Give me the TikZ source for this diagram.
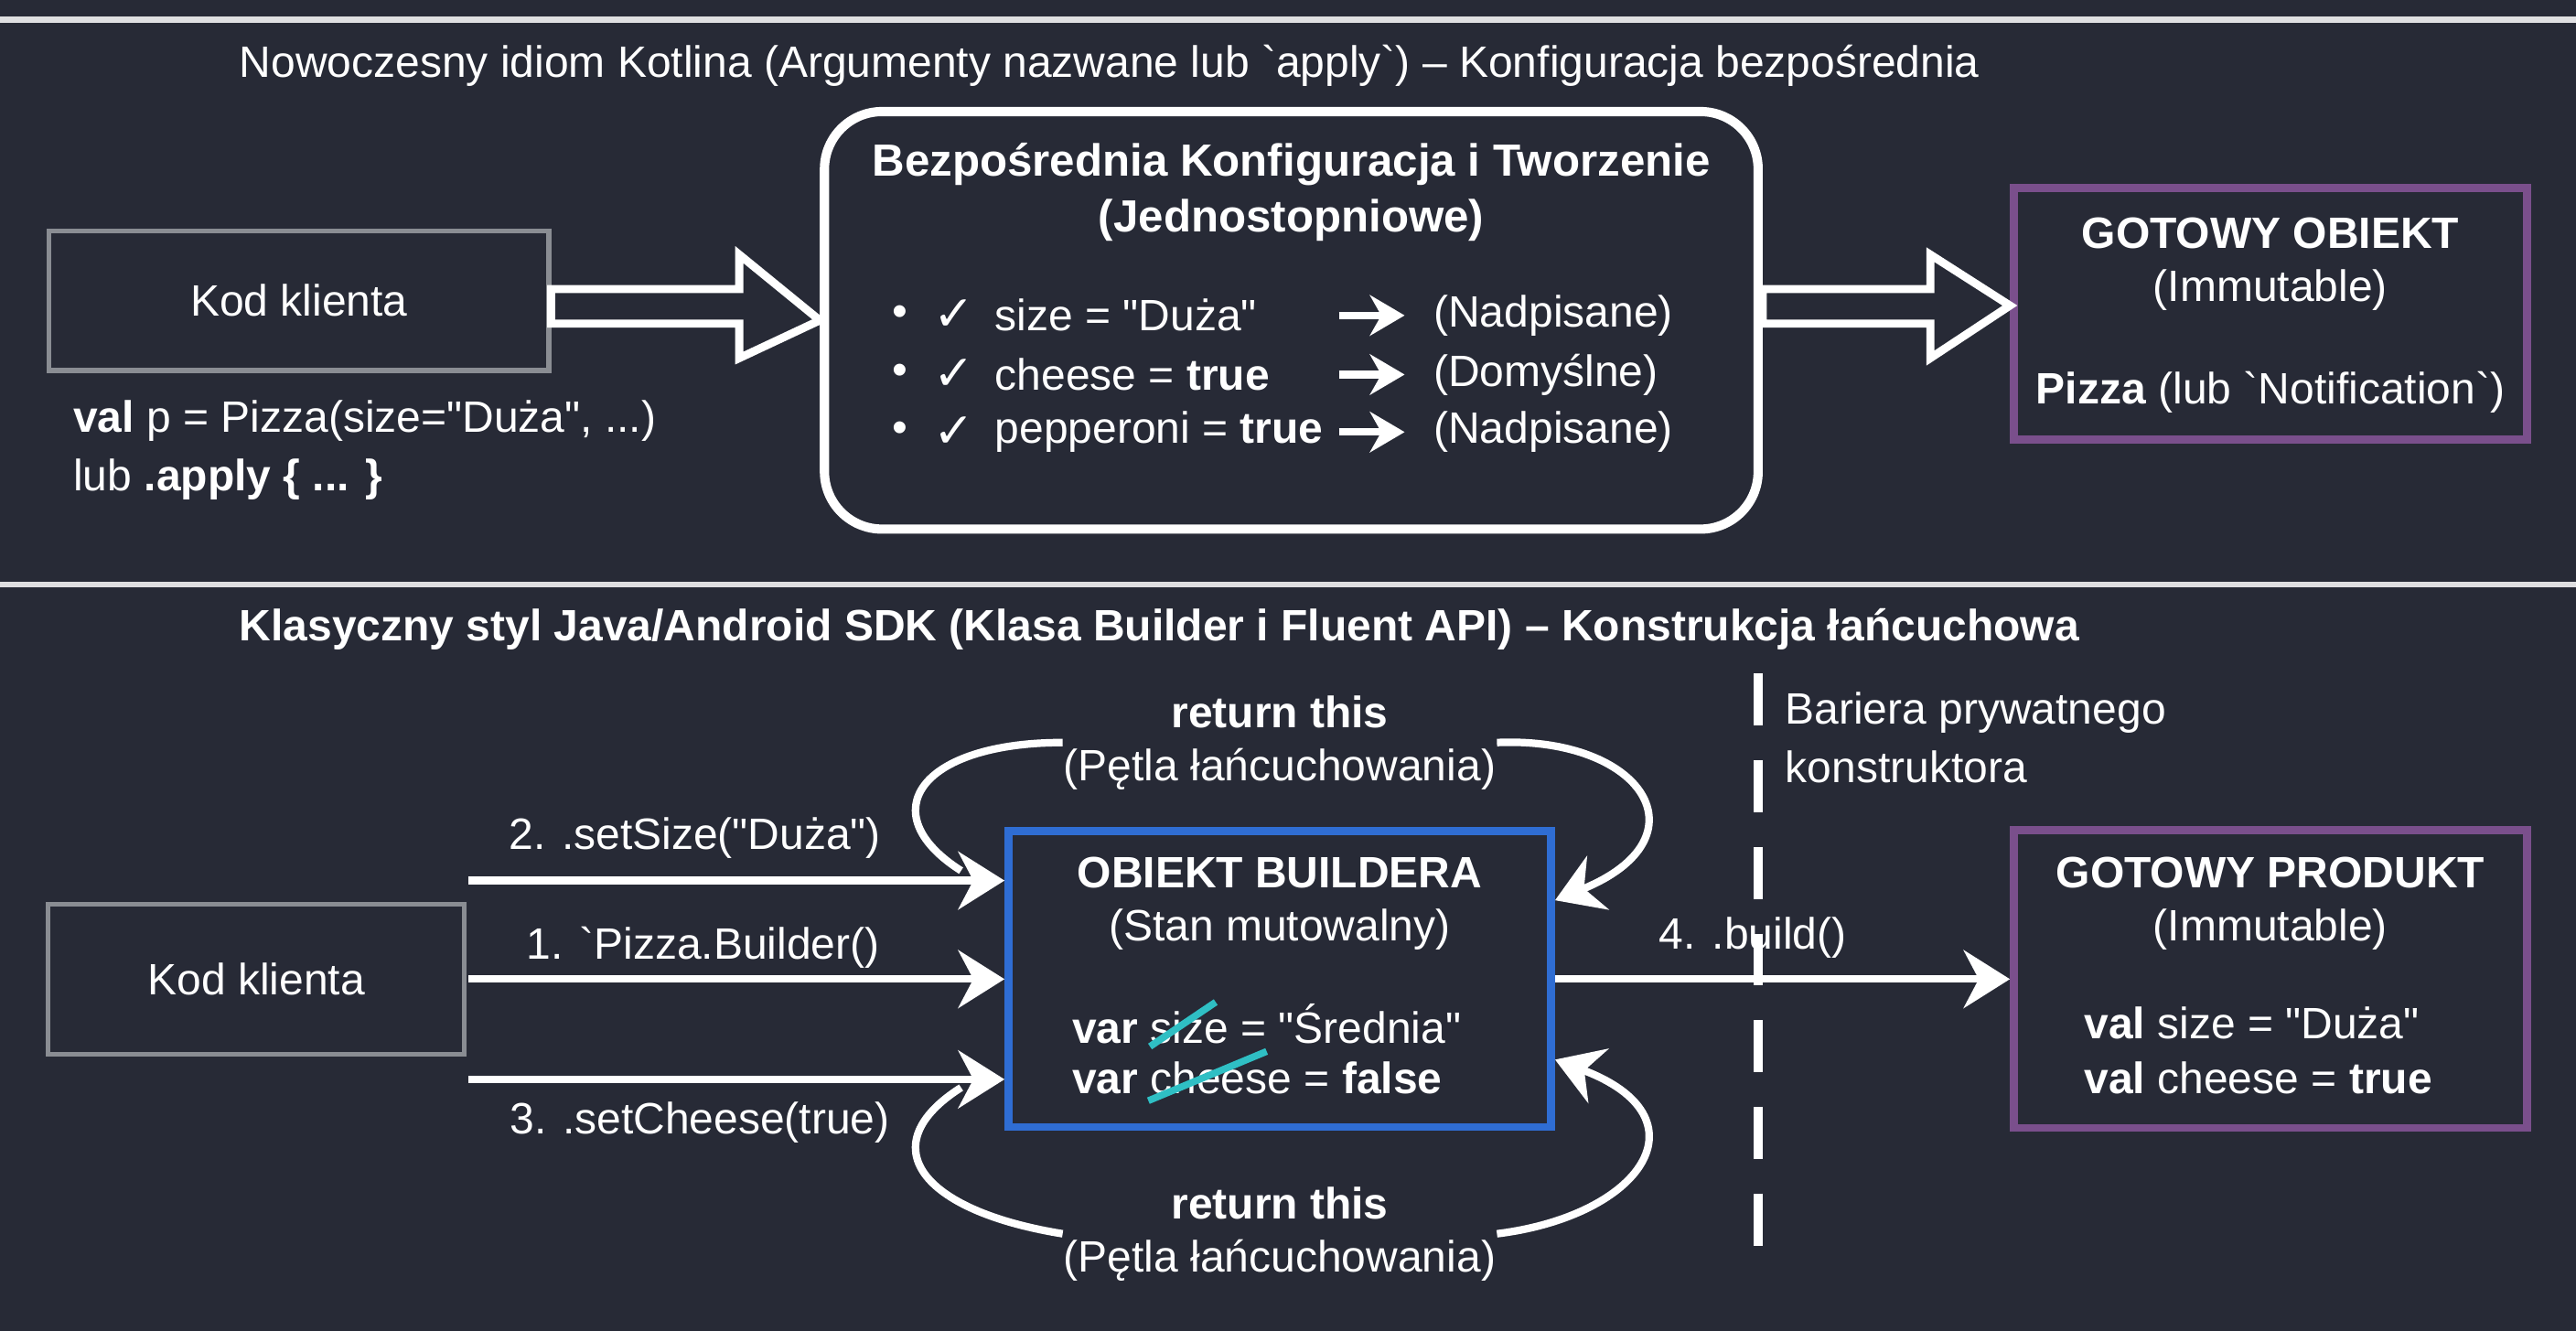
\documentclass[tikz,border=0pt]{standalone}
\usepackage{fontspec}
\setmainfont{Liberation Sans}[Ligatures=TeXOff]
\newfontfamily\symfont{DejaVu Sans}
\usetikzlibrary{arrows.meta}
\definecolor{bg}{HTML}{272A36}
\definecolor{frame}{HTML}{8A8D93}
\definecolor{lila}{HTML}{7A4F8C}
\definecolor{blau}{HTML}{2F6DD3}
\definecolor{teal}{HTML}{2FBFC4}
\tikzset{
  txt/.style={text=white,font=\fontsize{7.6}{9.2}\selectfont,inner sep=0pt},
  box/.style={draw=frame,line width=0.8pt,text=white,font=\fontsize{7.6}{9.2}\selectfont},
  pbox/.style={draw=lila,line width=1.4pt,text=white,align=center},
  flow/.style={draw=white,line width=1.3pt,-{Stealth[length=8pt,width=10pt]}},
  hollow/.style={draw=white,line width=1.4pt,fill=bg,line join=miter}
}
\begin{document}
\begin{tikzpicture}[x=0.01cm,y=-0.01cm]
\fill[bg] (0,0) rectangle (1568,810);
\useasboundingbox (0,0) rectangle (1568,810);
\draw[white!85!bg,line width=1pt] (0,12)--(1568,12) (0,356)--(1568,356);
% oben
\node[txt,anchor=west] (t1) at (145,40) {Nowoczesny idiom Kotlina (Argumenty nazwane lub `apply`) – Konfiguracja bezpośrednia};
\node[box,minimum width=3.04cm,minimum height=0.85cm] (kod1) at (182,183) {Kod klienta};
\node[txt,anchor=west,align=left] (val) at (44,274) {\textbf{val} p = Pizza(size="Duża", ...)\\[1pt]lub \textbf{.apply \{ ... \}}};
\node[draw=white,line width=1.6pt,rounded corners=0.35cm,minimum width=5.68cm,minimum height=2.54cm] (cfg) at (786,195) {};
\node[txt,font=\bfseries\fontsize{7.8}{9.6}\selectfont,align=center] (cfgt) at (786,117) {Bezpośrednia Konfiguracja i Tworzenie\\(Jednostopniowe)};
\foreach \y/\l/\r [count=\i] in {192/{size = "Duża"}/{(Nadpisane)},228/{cheese = \textbf{true}}/{(Domyślne)},263/{pepperoni = \textbf{true}}/{(Nadpisane)}}{
  \node[txt] (b\i) at (548,\y) {\textbullet};
  \node[txt,font=\symfont\bfseries\fontsize{8.5}{10}\selectfont] (c\i) at (581,\y) {✓};
  \node[txt,anchor=west] (l\i) at (605,\y) {\l};
  \node[txt,anchor=west] (r\i) at (872,\y) {\r};
  \draw[white,line width=1.3pt,-{Stealth[length=6pt,width=7pt]}] (815,\y)--(855,\y);
}
\node[pbox,minimum width=3.12cm,minimum height=1.53cm] (obj) at (1382,191) {};
\node[txt,align=center] (objt) at (1382,161) {\textbf{GOTOWY OBIEKT}\\(Immutable)};
\node[txt] (objp) at (1382,239) {\textbf{Pizza} (lub `Notification`)};
\draw[hollow] (kod1.east|-0,176)--(450,176)--(450,155)--(cfg.west)--(450,218)--(450,197)--(kod1.east|-0,197)--cycle;
\draw[hollow] (cfg.east|-0,176)--(1175,176)--(1175,155)--(obj.west|-0,186)--(1175,218)--(1175,197)--(cfg.east|-0,197)--cycle;
% unten
\node[txt,anchor=west,font=\bfseries\fontsize{7.6}{9.2}\selectfont] (t2) at (145,383) {Klasyczny styl Java/Android SDK (Klasa Builder i Fluent API) – Konstrukcja łańcuchowa};
\node[box,minimum width=2.53cm,minimum height=0.91cm] (kod2) at (156,596) {Kod klienta};
\node[draw=blau,line width=1.4pt,minimum width=3.3cm,minimum height=1.8cm] (bld) at (779,596) {};
\node[txt,align=center] (bldt) at (779,550) {\textbf{OBIEKT BUILDERA}\\(Stan mutowalny)};
\node[txt,anchor=west] (v1) at (652,623) {\textbf{var} size = "Średnia"};
\node[txt,anchor=west] (v2) at (652,656) {\textbf{var} cheese = \textbf{false}};
\draw[teal,line width=1.2pt] (700,637)--(740,610) (699,670)--(771,640);
\node[pbox,minimum width=3.12cm,minimum height=1.81cm] (prod) at (1382,596) {};
\node[txt,align=center] (prodt) at (1382,550) {\textbf{GOTOWY PRODUKT}\\(Immutable)};
\node[txt,anchor=west] (p1) at (1268,623) {\textbf{val} size = "Duża"};
\node[txt,anchor=west] (p2) at (1268,656) {\textbf{val} cheese = \textbf{true}};
\coordinate (s2) at (285,536);
\coordinate (s1) at (285,596);
\coordinate (s3) at (285,657);
\draw[flow] (s2)--(bld.west|-s2);
\draw[flow] (s1)--(bld.west|-s1);
\draw[flow] (s3)--(bld.west|-s3);
\draw[flow] (bld.east|-s1)--(prod.west|-s1);
\node[txt] (lb2) at (423,510) {2. .setSize("Duża")};
\node[txt] (lb1) at (428,577) {1. `Pizza.Builder()};
\node[txt] (lb3) at (426,683) {3. .setCheese(true)};
\node[txt] (lb4) at (1067,571) {4. .build()};
\node[txt,align=center] (rt) at (779,452) {\textbf{return this}\\(Pętla łańcuchowania)};
\node[txt,align=center] (rb) at (779,751) {\textbf{return this}\\(Pętla łańcuchowania)};
\draw[white,line width=1.3pt] (585,530) .. controls (530,495) and (560,452) .. (rt.west);
\draw[flow] (rt.east) .. controls (1000,448) and (1040,510) .. (bld.east|-0,548);
\draw[white,line width=1.3pt] (585,662) .. controls (530,697) and (560,737) .. (rb.west);
\draw[flow] (rb.east) .. controls (1000,740) and (1040,680) .. (bld.east|-0,645);
\draw[white,line width=1.6pt,dash pattern=on 9pt off 6pt] (1070,410)--(1070,778);
\node[txt,anchor=west,align=left] (bar) at (1086,449) {Bariera prywatnego\\[1pt]konstruktora};
\end{tikzpicture}
\end{document}
